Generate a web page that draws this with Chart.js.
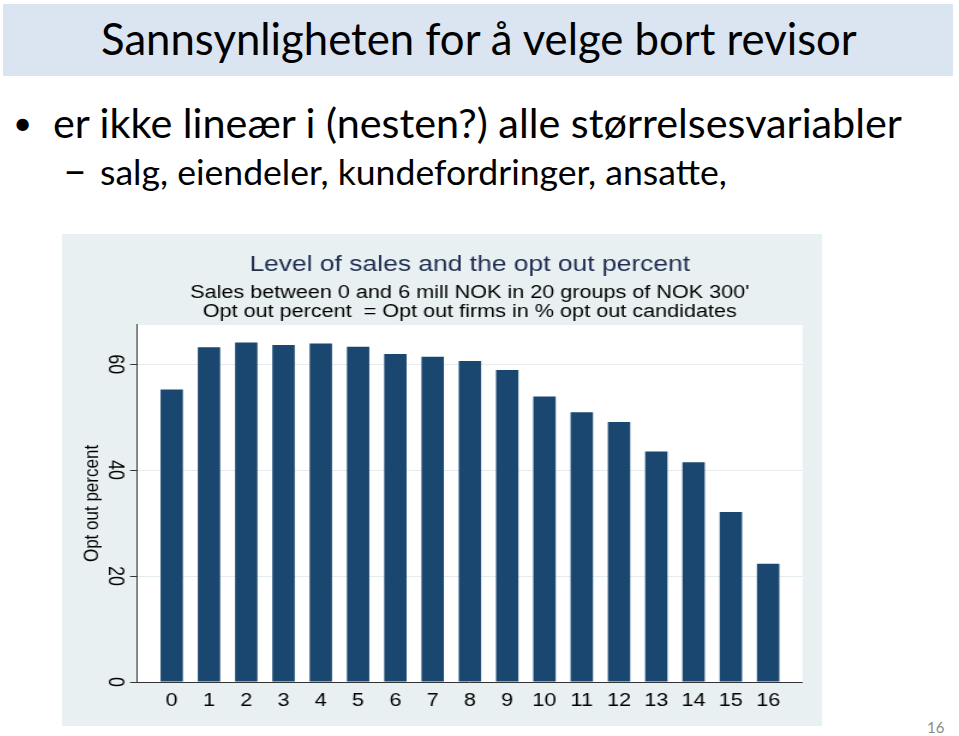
<!DOCTYPE html>
<html><head><meta charset="utf-8">
<script src="https://cdn.jsdelivr.net/npm/chart.js@4.4.1/dist/chart.umd.min.js"></script>
<style>
html,body{margin:0;padding:0;background:#fff;}
body{width:959px;height:736px;position:relative;overflow:hidden;font-family:Lato,"Open Sans",sans-serif;}
#band{position:absolute;left:3px;top:4px;width:950px;height:72px;background:#dbe5f1;}
.t{position:absolute;white-space:nowrap;line-height:1;color:#000;left:0;top:0;}
#pg{color:#8a8a8a;}
#panel{position:absolute;left:62px;top:234px;width:760px;height:492px;background:#e9f0f2;}
#c{display:block;width:760px;height:492px;}
</style></head><body>
<div id="band"></div>
<span class="t" id="title">Sannsynligheten for å velge bort revisor</span>
<span class="t" id="bul">•</span>
<span class="t" id="l1">er ikke lineær i (nesten?) alle størrelsesvariabler</span>
<span class="t" id="dash">–</span>
<span class="t" id="l2">salg, eiendeler, kundefordringer, ansatte,</span>
<span class="t" id="pg">16</span>
<div id="panel"><canvas id="c" width="633" height="492" style="width:760px;height:492px;"></canvas></div>
<script>
// ---- data ----
const categories = [0,1,2,3,4,5,6,7,8,9,10,11,12,13,14,15,16];
const tickLabels = ['0','1','2','3','4','5','6','7','8','9','10','11','12','13','14','15','16'];
const optOutPercent = [55.2,63.2,64.1,63.6,63.9,63.3,61.9,61.4,60.6,58.9,53.9,50.9,49.1,43.5,41.5,32.1,22.3];
const yTickValues = [0,20,40,60];
const chartTitle = 'Level of sales and the opt out percent';
const chartSubtitle = ["Sales between 0 and 6 mill NOK in 20 groups of NOK 300'", 'Opt out percent  = Opt out firms in % opt out candidates'];
const yAxisTitle = 'Opt out percent';

// ---- slide text placement ----
function place(id, x, baseline, width, size) {
  const el = document.getElementById(id);
  let fs = size || 40;
  el.style.fontSize = fs + 'px';
  if (width) {
    const w = el.getBoundingClientRect().width;
    fs = fs * width / w;
    el.style.fontSize = fs + 'px';
  }
  const m = document.createElement('span');
  m.style.cssText = 'display:inline-block;width:0;height:0;vertical-align:baseline;';
  el.appendChild(m);
  const b = m.getBoundingClientRect().top - el.getBoundingClientRect().top;
  el.removeChild(m);
  el.style.left = x + 'px';
  el.style.top = (baseline - b) + 'px';
  return fs;
}
place('title', 101, 55, 756);
const f1 = place('l1', 53, 138, 849);
place('bul', 13, 135, 0, f1 * 0.8);
const f2 = place('l2', 100, 185, 627);
place('dash', 63, 185, 24);
place('pg', 927, 733, 0, 15);

// ---- chart ----
const FONT = '"Liberation Sans", Arial, Helvetica, sans-serif';
const plotBg = {
  id: 'plotBg',
  beforeDraw(chart) {
    const {ctx, chartArea: a} = chart;
    ctx.save();
    ctx.fillStyle = '#ffffff';
    ctx.fillRect(a.left, a.top, a.right - a.left, a.bottom - a.top);
    ctx.restore();
  }
};
new Chart(document.getElementById('c'), {
  type: 'bar',
  data: {
    datasets: [{
      data: categories.map((c, i) => ({x: c, y: optOutPercent[i]})),
      backgroundColor: '#1a476f',
      borderWidth: 0,
      barPercentage: 0.6,
      categoryPercentage: 1
    }]
  },
  plugins: [plotBg],
  options: {
    responsive: false,
    animation: false,
    devicePixelRatio: 1,
    layout: {padding: {left: 0, right: 16.3, top: 0, bottom: 0}},
    plugins: {
      legend: {display: false},
      tooltip: {enabled: false},
      title: {
        display: true, fullSize: false, text: chartTitle, color: '#1e2d50',
        font: {family: FONT, size: 22, weight: 'normal', lineHeight: 1.2},
        padding: {top: 17.8, bottom: 4.8}
      },
      subtitle: {
        display: true, fullSize: false, text: chartSubtitle, color: '#000',
        font: {family: FONT, size: 18, weight: 'normal', lineHeight: 1.06},
        padding: {top: 0, bottom: 3.8}
      }
    },
    scales: {
      x: {
        type: 'linear', min: -0.93, max: 16.92, offset: false,
        grid: {display: false},
        border: {display: true, color: '#333', width: 1},
        ticks: {
          stepSize: 1, includeBounds: false, autoSkip: false, maxRotation: 0,
          font: {family: FONT, size: 18}, color: '#000', padding: 0,
          callback: (v) => { const i = categories.indexOf(v); return i >= 0 ? tickLabels[i] : ''; }
        },
        afterFit: (s) => { s.height = 44; }
      },
      y: {
        type: 'linear', min: 0, max: 67.4,
        grid: {color: '#e4ecef', lineWidth: 1, tickLength: 5.8, tickColor: '#333', drawTicks: true},
        border: {display: true, color: '#333', width: 1},
        ticks: {
          stepSize: 20, includeBounds: false, minRotation: -90, maxRotation: -90,
          crossAlign: 'center', padding: 2.5,
          font: {family: FONT, size: 18}, color: '#000',
          callback: (v) => yTickValues.includes(v) ? String(v) : ''
        },
        title: {
          display: true, text: yAxisTitle, color: '#000',
          font: {family: FONT, size: 17, weight: 'normal'},
          padding: {top: 15.6, bottom: 0}
        },
        afterFit: (s) => { s.width = 62.5; }
      }
    }
  }
});
</script>
</body></html>
